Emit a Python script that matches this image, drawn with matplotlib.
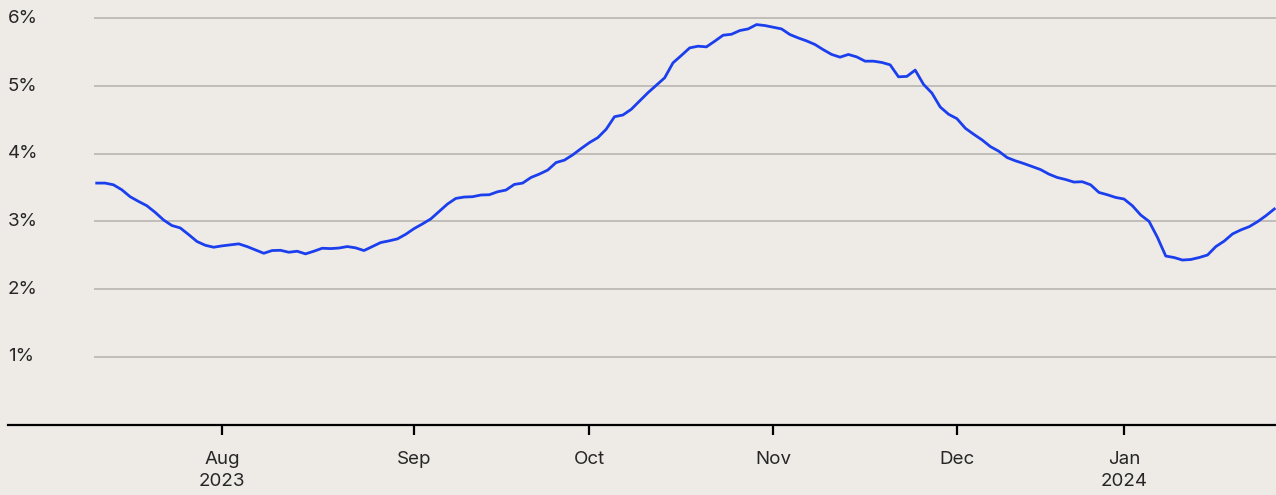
import matplotlib
matplotlib.use("Agg")
import matplotlib.pyplot as plt
import matplotlib.transforms as mtransforms

# business-day series (percent)
values = [
    3.567, 3.567, 3.542, 3.469, 3.366, 3.297, 3.233, 3.135, 3.023, 2.941,
    2.905, 2.808, 2.705, 2.649, 2.620, 2.640, 2.655, 2.670, 2.630, 2.581,
    2.531, 2.571, 2.575, 2.546, 2.561, 2.522, 2.561, 2.605, 2.600, 2.608,
    2.630, 2.611, 2.571, 2.630, 2.689, 2.714, 2.743, 2.811, 2.895, 2.964,
    3.038, 3.149, 3.258, 3.341, 3.361, 3.366, 3.391, 3.395, 3.439, 3.464,
    3.547, 3.567, 3.650, 3.700, 3.759, 3.870, 3.906, 3.984, 4.077, 4.165,
    4.238, 4.362, 4.547, 4.572, 4.656, 4.779, 4.901, 5.010, 5.121, 5.342,
    5.451, 5.563, 5.588, 5.578, 5.662, 5.750, 5.764, 5.819, 5.843, 5.907,
    5.893, 5.868, 5.843, 5.760, 5.710, 5.666, 5.613, 5.536, 5.466, 5.426,
    5.466, 5.430, 5.367, 5.367, 5.348, 5.313, 5.136, 5.142, 5.235, 5.024,
    4.896, 4.690, 4.583, 4.518, 4.377, 4.288, 4.205, 4.106, 4.038, 3.944,
    3.896, 3.856, 3.812, 3.767, 3.700, 3.650, 3.620, 3.582, 3.587, 3.542,
    3.429, 3.395, 3.355, 3.332, 3.233, 3.096, 3.002, 2.767, 2.490, 2.468,
    2.431, 2.439, 2.468, 2.505, 2.630, 2.711, 2.817, 2.876, 2.924, 2.998,
    3.086, 3.185,
]

# index of first business day of each month
month_idx = [15, 38, 59, 81, 103, 123]
month_labels = ["Aug\n2023", "Sep", "Oct", "Nov", "Dec", "Jan\n2024"]

y_ticks = [1, 2, 3, 4, 5, 6]
y_labels = ["1%", "2%", "3%", "4%", "5%", "6%"]

bg = "#EEEBE7"
blue = "#1C3FEE"
grid_c = "#BDB9B3"
txt = "#262626"

plt.rcParams["font.family"] = ["Inter", "DejaVu Sans"]

fig = plt.figure(figsize=(12.76, 4.95), dpi=100, facecolor=bg)
ax = fig.add_axes([8 / 1276, 70.3 / 495, 1268 / 1276, 424.7 / 495])
ax.set_facecolor(bg)

x = list(range(len(values)))
ax.set_xlim(-10.62, 141.2)
ax.set_ylim(0, 6.27)

# horizontal gridlines, starting just left of the line
for yv in y_ticks:
    ax.hlines(yv, -0.3, 141.2, color=grid_c, lw=1.3, zorder=1)

ax.plot(x, values, color=blue, lw=2.0, zorder=3, solid_joinstyle="round")

for s in ["top", "right", "left"]:
    ax.spines[s].set_visible(False)
ax.spines["bottom"].set_color("black")
ax.spines["bottom"].set_linewidth(1.6)

ax.set_xticks(month_idx)
ax.set_xticklabels(month_labels, fontsize=13.5, color=txt, linespacing=1.4)
ax.tick_params(axis="x", length=7, width=1.6, color="black", pad=12)
ax.set_yticks([])

trans = mtransforms.blended_transform_factory(ax.transAxes, ax.transData)
for yv, lab in zip(y_ticks, y_labels):
    ax.text(0.0, yv, lab, transform=trans, ha="left", va="center",
            fontsize=13.5, color=txt)

fig.savefig("out.png", dpi=100, facecolor=bg)
